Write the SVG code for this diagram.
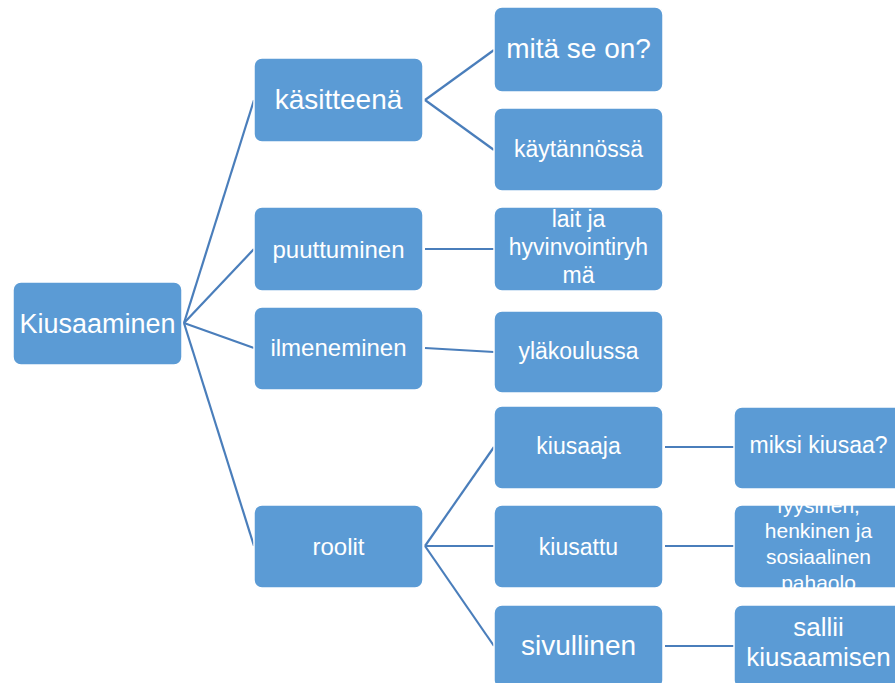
<svg xmlns="http://www.w3.org/2000/svg" width="895" height="683" viewBox="0 0 895 683">
<defs>
<style>
.box{fill:#5B9BD5;stroke:#FFFFFF;stroke-width:1.5}
.t{fill:#FFFFFF;font-family:"Liberation Sans",Arial,sans-serif;text-anchor:middle}
.c{stroke:#4A7EBB;stroke-width:2.2;fill:none}
</style>
<clipPath id="clipF"><rect x="734" y="505" width="169" height="83" rx="8"/></clipPath>
</defs>
<rect width="895" height="683" fill="#FFFFFF"/>
<g id="connectors">
<line class="c" x1="184" y1="323" x2="254" y2="100"/>
<line class="c" x1="184" y1="323" x2="254" y2="249"/>
<line class="c" x1="184" y1="323" x2="254" y2="348"/>
<line class="c" x1="184" y1="323" x2="254" y2="546"/>
<line class="c" x1="425" y1="100" x2="494" y2="50"/>
<line class="c" x1="425" y1="100" x2="494" y2="150"/>
<line class="c" x1="425" y1="249" x2="494" y2="249"/>
<line class="c" x1="425" y1="348" x2="494" y2="352"/>
<line class="c" x1="425" y1="546" x2="494" y2="447"/>
<line class="c" x1="425" y1="546" x2="494" y2="546"/>
<line class="c" x1="425" y1="546" x2="494" y2="646"/>
<line class="c" x1="665" y1="447" x2="734" y2="447"/>
<line class="c" x1="665" y1="546" x2="734" y2="546"/>
<line class="c" x1="665" y1="646" x2="734" y2="646"/>
</g>
<g id="n-kiusaaminen"><rect class="box" x="13" y="282" width="169" height="83" rx="8"/><text class="t" x="97.5" y="333" font-size="27">Kiusaaminen</text></g>
<g id="n-kasitteena"><rect class="box" x="254" y="58" width="169" height="84" rx="8"/><text class="t" x="338.5" y="109" font-size="28">käsitteenä</text></g>
<g id="n-puuttuminen"><rect class="box" x="254" y="207" width="169" height="84" rx="8"/><text class="t" x="338.5" y="258" font-size="24">puuttuminen</text></g>
<g id="n-ilmeneminen"><rect class="box" x="254" y="307" width="169" height="83" rx="8"/><text class="t" x="338.5" y="356" font-size="24">ilmeneminen</text></g>
<g id="n-roolit"><rect class="box" x="254" y="505" width="169" height="83" rx="8"/><text class="t" x="338.5" y="555" font-size="24">roolit</text></g>
<g id="n-mita"><rect class="box" x="494" y="7" width="169" height="85" rx="8"/><text class="t" x="578.5" y="58" font-size="28">mitä se on?</text></g>
<g id="n-kaytannossa"><rect class="box" x="494" y="108" width="169" height="83" rx="8"/><text class="t" x="578.5" y="157" font-size="23">käytännössä</text></g>
<g id="n-lait"><rect class="box" x="494" y="207" width="169" height="84" rx="8"/><text class="t" x="578.5" font-size="23"><tspan x="578.5" y="227">lait ja</tspan><tspan x="578.5" y="255">hyvinvointiryh</tspan><tspan x="578.5" y="283">mä</tspan></text></g>
<g id="n-ylakoulussa"><rect class="box" x="494" y="311" width="169" height="82" rx="8"/><text class="t" x="578.5" y="359" font-size="23">yläkoulussa</text></g>
<g id="n-kiusaaja"><rect class="box" x="494" y="406" width="169" height="83" rx="8"/><text class="t" x="578.5" y="454" font-size="23">kiusaaja</text></g>
<g id="n-kiusattu"><rect class="box" x="494" y="505" width="169" height="83" rx="8"/><text class="t" x="578.5" y="555" font-size="23">kiusattu</text></g>
<g id="n-sivullinen"><rect class="box" x="494" y="605" width="169" height="83" rx="8"/><text class="t" x="578.5" y="655" font-size="28">sivullinen</text></g>
<g id="n-miksi"><rect class="box" x="734" y="407" width="169" height="82" rx="8"/><text class="t" x="818.5" y="453" font-size="23">miksi kiusaa?</text></g>
<g id="n-fyysinen"><rect class="box" x="734" y="505" width="169" height="83" rx="8"/><text class="t" font-size="21" clip-path="url(#clipF)"><tspan x="818.5" y="513">fyysinen,</tspan><tspan x="818.5" y="538">henkinen ja</tspan><tspan x="818.5" y="564">sosiaalinen</tspan><tspan x="818.5" y="590">pahaolo</tspan></text></g>
<g id="n-sallii"><rect class="box" x="734" y="605" width="169" height="83" rx="8"/><text class="t" font-size="26"><tspan x="818.5" y="636">sallii</tspan><tspan x="818.5" y="666">kiusaamisen</tspan></text></g>
</svg>
